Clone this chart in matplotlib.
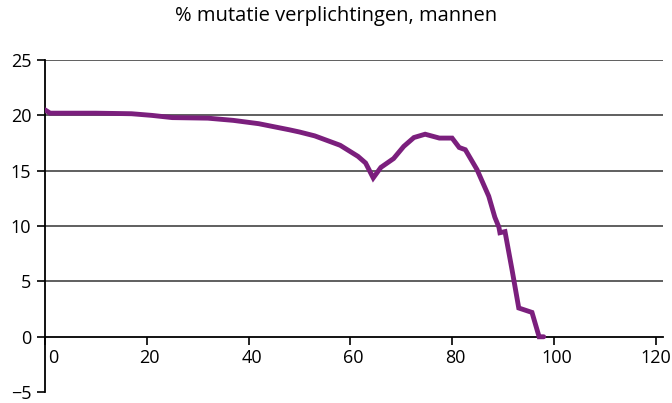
import matplotlib.pyplot as plt
import matplotlib.transforms as mtransforms

plt.rcParams['font.family'] = ['Open Sans', 'DejaVu Sans']

# leeftijd vs % mutatie verplichtingen
leeftijd = [0, 1, 10, 17, 21, 25, 32, 37, 42, 48, 50, 53, 58, 61.5, 63, 64.5,
            66, 68.5, 70.5, 72.5, 74.7, 77.5, 80, 81.4, 82.6, 84.9, 87.2, 88.4,
            89.2, 89.4, 90.4, 91.8, 93.1, 95.7, 97.1, 98.0]
mutatie = [20.5, 20.2, 20.2, 20.15, 20.0, 19.8, 19.75, 19.55, 19.25, 18.7, 18.5,
           18.15, 17.3, 16.3, 15.7, 14.35, 15.3, 16.1, 17.2, 18.0, 18.3, 17.95,
           17.95, 17.1, 16.9, 15.1, 12.7, 10.8, 9.9, 9.4, 9.5, 6.0, 2.6, 2.2,
           0.0, 0.0]

xticks = [0, 20, 40, 60, 80, 100, 120]
yticks = [-5, 0, 5, 10, 15, 20, 25]

fig = plt.figure(figsize=(6.72, 4.03), dpi=100)
ax = fig.add_axes([0.067, 0.027, 0.92, 0.824])

for y in yticks[2:]:
    ax.axhline(y, color='#444444', lw=1.2, zorder=1)

ax.plot(leeftijd, mutatie, color='#7B1F7D', lw=3.5, solid_joinstyle='miter',
        solid_capstyle='round', zorder=3)

ax.set_xlim(0, 121.5)
ax.set_ylim(-5, 25)
ax.set_xticks(xticks)
ax.set_yticks(yticks)
ax.set_yticklabels(['\u22125' if v < 0 else str(v) for v in yticks])

ax.spines['top'].set_visible(False)
ax.spines['right'].set_visible(False)
ax.spines['bottom'].set_position(('data', 0))
ax.spines['bottom'].set_linewidth(1.3)
ax.spines['left'].set_linewidth(1.3)
ax.tick_params(axis='x', direction='out', length=6, width=1.2, labelsize=13, pad=3)
ax.tick_params(axis='y', direction='out', length=6, width=1.2, labelsize=13, pad=4)

shift = mtransforms.ScaledTranslation(3 / 100, 0, fig.dpi_scale_trans)
for i, lbl in enumerate(ax.get_xticklabels()):
    if i == 0:
        lbl.set_transform(lbl.get_transform() + mtransforms.ScaledTranslation(8 / 100, 0, fig.dpi_scale_trans))
    elif i < len(xticks) - 1:
        lbl.set_transform(lbl.get_transform() + shift)

fig.suptitle('% mutatie verplichtingen, mannen', fontsize=14.5, y=0.985)

fig.savefig('out.png', dpi=100)
